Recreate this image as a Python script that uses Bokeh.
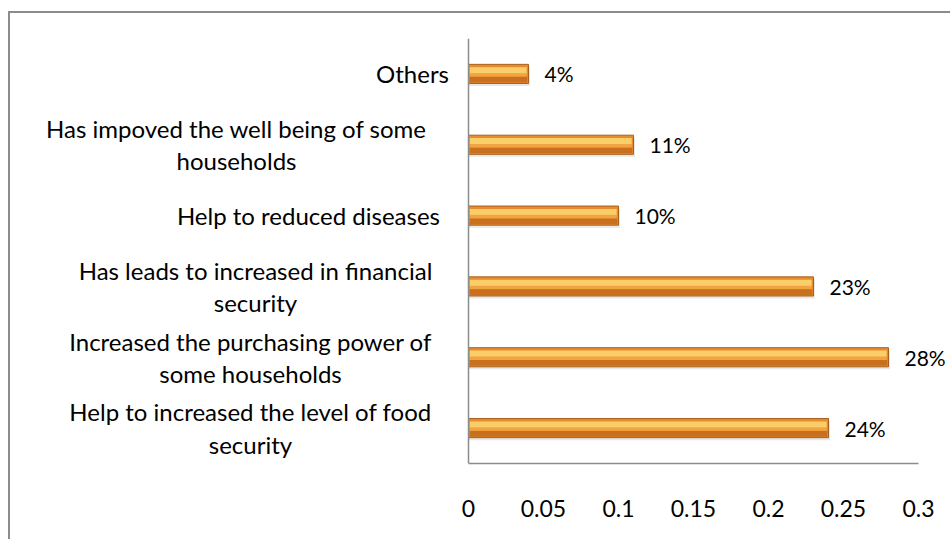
from bokeh.plotting import figure
from bokeh.models import Range1d, FixedTicker, Label, LabelSet, ColumnDataSource, Span
from bokeh.core.properties import value
from bokeh.embed import file_html
from bokeh.resources import INLINE
import numpy as np

# ---- data (bottom to top) ----
categories = [
    "Help to increased the level of food\nsecurity",
    "Increased the purchasing power of\nsome households",
    "Has leads to increased in financial\nsecurity",
    "Help  to reduced diseases",
    "Has impoved the well being of some\nhouseholds",
    "Others",
]
values = [0.24, 0.28, 0.23, 0.10, 0.11, 0.04]
tick_values = [0, 0.05, 0.1, 0.15, 0.2, 0.25, 0.3]
tick_labels = ["0", "0.05", "0.1", "0.15", "0.2", "0.25", "0.3"]
x_max = 0.3

# ---- layout ----
label_center_offsets = [-218, -218, -213, -157, -232, -56]  # px from axis
W, H = 942, 528
axis_px = 458          # canvas x of the zero line
plot_px = 450          # px from 0 to x_max
ppu = plot_px / x_max

FONT = "Lato"
y = np.arange(len(categories), dtype=float)
vals = np.array(values)

p = figure(width=W, height=H, output_backend="svg", toolbar_location=None,
           x_range=Range1d(-axis_px / ppu, (W - axis_px) / ppu),
           y_range=Range1d(-0.5, len(categories) - 0.5),
           min_border_left=0, min_border_right=0, min_border_top=25, min_border_bottom=78,
           styles={"border-left": "2px solid #8c8c8c", "border-top": "2px solid #8c8c8c",
                   "margin-top": "11px", "margin-left": "8px"})
p.outline_line_color = None
p.xgrid.visible = False
p.ygrid.visible = False
p.yaxis.visible = False
p.background_fill_color = "white"
p.border_fill_color = "white"

h = 0.27
src = ColumnDataSource(dict(y=y, v=vals, txt=[f"{round(v*100)}%" for v in values]))

# shadow
p.hbar(y=y - 0.035, left=0, right=vals + 0.001, height=h, fill_color="#d0d0d0",
       fill_alpha=0.5, line_color=None)
# base bar
p.hbar(y=y, left=0, right=vals, height=h, fill_color="#E88B2E", line_color="#A8601E", line_width=1)
# darker lower band
p.hbar(y=y - h * 0.30, left=0.0008, right=vals - 0.0008, height=h * 0.30,
       fill_color="#C9701F", line_color=None)
# light highlight band
p.hbar(y=y + h * 0.18, left=0.0008, right=vals - 0.0012, height=h * 0.34,
       fill_color="#FACF6A", line_color=None)
# mid band
p.hbar(y=y - h * 0.05, left=0.0008, right=vals - 0.0012, height=h * 0.18,
       fill_color="#F3A442", line_color=None)

# y axis line
p.add_layout(Span(location=0, dimension="height", line_color="#8c8c8c", line_width=1.5))

# value labels
p.add_layout(LabelSet(x="v", y="y", text="txt", source=src, x_offset=16,
                      text_baseline="middle", text_align="left",
                      text_font=value(FONT), text_font_size="21px", text_color="#000000"))

# category labels
for yi, cat, off in zip(y, categories, label_center_offsets):
    p.add_layout(Label(x=0, y=yi, x_offset=off, text=cat, text_align="center",
                       text_baseline="middle", text_font=FONT, text_font_size="24px",
                       text_line_height=1.12, text_color="#000000"))

# x axis
p.xaxis.bounds = (0, x_max)
p.xaxis.ticker = FixedTicker(ticks=tick_values)
p.xaxis.major_label_overrides = {t: l for t, l in zip(tick_values, tick_labels)}
p.xaxis.major_label_text_font = FONT
p.xaxis.major_label_text_font_size = "23px"
p.xaxis.major_label_text_color = "#000000"
p.xaxis.major_label_standoff = 30
p.xaxis.major_tick_line_color = None
p.xaxis.minor_tick_line_color = None
p.xaxis.axis_line_color = "#8c8c8c"
p.xaxis.axis_line_width = 1.5

open("out.html", "w").write(file_html(p, INLINE))
